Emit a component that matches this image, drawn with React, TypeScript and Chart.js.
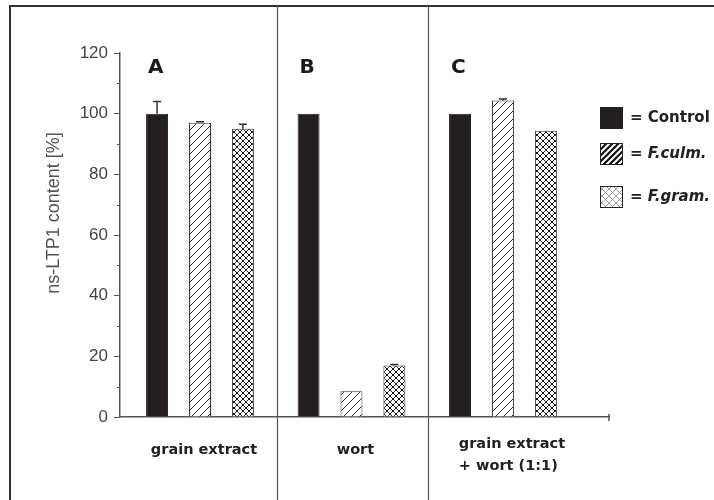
import React, { useEffect, useRef } from 'react';
import { Chart, registerables } from 'chart.js';

Chart.register(...registerables);

// ---- data ----
const categories: string[][] = [['grain extract'], ['wort'], ['grain extract', '+ wort (1:1)']];
const panelLetters = ['A', 'B', 'C'];
const seriesNames = ['Control', 'F.culm.', 'F.gram.'];
const controlValues = [100, 100, 100];
const controlErrors = [4, 0, 0];
const fculmValues = [97, 8.5, 104.3];
const fculmErrors = [0.3, 0, 0.5];
const fgramValues = [95, 17, 94.4];
const fgramErrors = [1.5, 0.3, 0];
const yMin = 0;
const yMax = 120;
const yStep = 20;
const yMinorStep = 10;
const yTitle = 'ns-LTP1 content [%]';

const errorSets = [controlErrors, fculmErrors, fgramErrors];

function makePattern(kind: string): CanvasPattern | string {
  const c = document.createElement('canvas');
  const size = kind === 'diag' ? 8 : kind === 'cross' ? 6 : kind === 'diagBold' ? 6 : 7;
  c.width = size;
  c.height = size;
  const g = c.getContext('2d');
  if (!g) return '#fff';
  g.fillStyle = '#ffffff';
  g.fillRect(0, 0, size, size);
  const s = size;
  if (kind === 'diag' || kind === 'diagBold') {
    g.strokeStyle = kind === 'diag' ? '#2a2a2a' : '#111';
    g.lineWidth = kind === 'diag' ? 1 : 2.2;
    g.beginPath();
    g.moveTo(-1, s + 1); g.lineTo(s + 1, -1);
    g.moveTo(-1, 1); g.lineTo(1, -1);
    g.moveTo(s - 1, s + 1); g.lineTo(s + 1, s - 1);
    g.stroke();
  } else {
    g.strokeStyle = kind === 'cross' ? '#333' : '#777';
    g.lineWidth = kind === 'cross' ? 1 : 0.7;
    g.beginPath();
    g.moveTo(-1, s + 1); g.lineTo(s + 1, -1);
    g.moveTo(-1, -1); g.lineTo(s + 1, s + 1);
    g.stroke();
    if (kind === 'cross') {
      g.fillStyle = '#111';
      g.fillRect(s / 2 - 1, s / 2 - 1, 2, 2);
      g.fillRect(0, 0, 1, 1);
      g.fillRect(s - 1, 0, 1, 1);
      g.fillRect(0, s - 1, 1, 1);
      g.fillRect(s - 1, s - 1, 1, 1);
    }
  }
  const p = g.createPattern(c, 'repeat');
  return p || '#fff';
}

export default function App() {
  const ref = useRef<HTMLCanvasElement | null>(null);

  useEffect(() => {
    if (!ref.current) return;
    const diag = makePattern('diag');
    const cross = makePattern('cross');
    const diagBold = makePattern('diagBold');
    const crossLight = makePattern('crossLight');

    const toPts = (vals: number[]) => vals.map((v, i) => ({ x: i + 1, y: v }));

    const errorPlugin = {
      id: 'errorBars',
      afterDatasetsDraw(chart: any) {
        const ctx = chart.ctx;
        const y = chart.scales.y;
        ctx.save();
        ctx.strokeStyle = '#333';
        ctx.lineWidth = 1.5;
        chart.data.datasets.forEach((ds: any, di: number) => {
          const meta = chart.getDatasetMeta(di);
          meta.data.forEach((el: any, j: number) => {
            const e = errorSets[di][j];
            if (!e) return;
            const v = ds.data[j].y;
            const y0 = y.getPixelForValue(v);
            const y1 = y.getPixelForValue(v + e);
            ctx.beginPath();
            ctx.moveTo(el.x, y0);
            ctx.lineTo(el.x, y1);
            ctx.moveTo(el.x - 4, y1);
            ctx.lineTo(el.x + 4, y1);
            ctx.stroke();
          });
        });
        ctx.restore();
      },
    };

    const decorPlugin = {
      id: 'decor',
      afterDraw(chart: any) {
        const ctx = chart.ctx;
        const x = chart.scales.x;
        const y = chart.scales.y;
        const area = chart.chartArea;
        ctx.save();
        // outer frame (left and top)
        ctx.strokeStyle = '#333';
        ctx.lineWidth = 2;
        ctx.beginPath();
        ctx.moveTo(10, 500);
        ctx.lineTo(10, 6);
        ctx.lineTo(714, 6);
        ctx.stroke();
        // dividers between panels
        ctx.strokeStyle = '#555';
        ctx.lineWidth = 1.2;
        for (let i = 1; i < categories.length; i++) {
          const px = Math.round(x.getPixelForValue(i + 0.5)) + 1.5;
          ctx.beginPath();
          ctx.moveTo(px, 6);
          ctx.lineTo(px, 500);
          ctx.stroke();
        }
        // minor y ticks
        ctx.strokeStyle = '#555';
        ctx.lineWidth = 1;
        for (let v = yMin + yMinorStep; v < yMax; v += yStep) {
          const py = Math.round(y.getPixelForValue(v)) + 0.5;
          ctx.beginPath();
          ctx.moveTo(area.left - 3, py);
          ctx.lineTo(area.left, py);
          ctx.stroke();
        }
        // end tick on x axis
        ctx.lineWidth = 1.5;
        ctx.beginPath();
        ctx.moveTo(area.right, area.bottom - 3);
        ctx.lineTo(area.right, area.bottom + 4);
        ctx.stroke();
        // y title
        ctx.fillStyle = '#555';
        ctx.font = '18px "Liberation Sans", Arial, sans-serif';
        ctx.textAlign = 'center';
        ctx.textBaseline = 'middle';
        ctx.save();
        ctx.translate(54, 213);
        ctx.rotate(-Math.PI / 2);
        ctx.fillText(yTitle, 0, 0);
        ctx.restore();
        // panel letters
        const ctrlMeta = chart.getDatasetMeta(0);
        ctx.fillStyle = '#1a1a1a';
        ctx.font = 'bold 20px "DejaVu Sans", Arial, sans-serif';
        ctx.textAlign = 'left';
        panelLetters.forEach((L, i) => {
          const el = ctrlMeta.data[i];
          ctx.fillText(L, el.x - el.width / 2 + 2, 68);
        });
        // category labels
        ctx.font = 'bold 14.5px "DejaVu Sans", Arial, sans-serif';
        ctx.fillStyle = '#222';
        categories.forEach((lines, i) => {
          const cx = x.getPixelForValue(i + 1) + (lines.length > 1 ? 9 : 4);
          const w = Math.max(...lines.map((l) => ctx.measureText(l).width));
          const left = cx - w / 2;
          lines.forEach((l, k) => {
            ctx.fillText(l, left, 450 - (lines.length - 1) * 6 + k * 22);
          });
        });
        // legend
        const boxes = [
          { top: 107, fill: '#231f20' },
          { top: 143, fill: diagBold },
          { top: 186, fill: crossLight },
        ];
        boxes.forEach((b, i) => {
          ctx.fillStyle = b.fill as any;
          ctx.fillRect(600, b.top, 23, 22);
          ctx.strokeStyle = '#222';
          ctx.lineWidth = 1;
          ctx.strokeRect(600.5, b.top + 0.5, 22, 21);
          ctx.fillStyle = '#222';
          ctx.font = 'bold 15px "DejaVu Sans", Arial, sans-serif';
          ctx.textAlign = 'left';
          const eq = '= ';
          ctx.fillText(eq, 630, b.top + 11);
          const ew = ctx.measureText(eq).width;
          ctx.font = (i === 0 ? '' : 'italic ') + 'bold 15px "DejaVu Sans", Arial, sans-serif';
          ctx.fillText(seriesNames[i], 630 + ew, b.top + 11);
        });
        ctx.restore();
      },
    };

    const chart = new Chart(ref.current, {
      type: 'bar',
      data: {
        datasets: [
          {
            label: seriesNames[0],
            data: toPts(controlValues),
            backgroundColor: '#231f20',
            borderColor: '#231f20',
            borderWidth: 1,
          },
          {
            label: seriesNames[1],
            data: toPts(fculmValues),
            backgroundColor: diag as any,
            borderColor: '#333',
            borderWidth: 1,
          },
          {
            label: seriesNames[2],
            data: toPts(fgramValues),
            backgroundColor: cross as any,
            borderColor: '#333',
            borderWidth: 1,
          },
        ],
      },
      options: {
        animation: false,
        responsive: false,
        devicePixelRatio: 1,
        layout: { padding: { left: 0, top: 53, right: 105, bottom: 0 } },
        datasets: { bar: { categoryPercentage: 0.85, barPercentage: 0.512 } } as any,
        plugins: { legend: { display: false }, tooltip: { enabled: false } },
        scales: {
          x: {
            type: 'linear',
            min: 0.472,
            max: 3.7,
            offset: false,
            afterBuildTicks: (s: any) => {
              s.ticks = categories.map((_, i) => ({ value: i + 1 }));
            },
            afterFit: (s: any) => {
              s.height = 83;
              s.paddingLeft = 0;
              s.paddingRight = 0;
            },
            ticks: { display: false },
            grid: { display: false },
            border: { display: true, color: '#555', width: 1.5 },
          },
          y: {
            min: yMin,
            max: yMax,
            afterFit: (s: any) => {
              s.width = 120;
              s.paddingTop = 0;
              s.paddingBottom = 0;
            },
            ticks: {
              stepSize: yStep,
              padding: 6,
              color: '#444',
              font: { family: '"Liberation Sans", Arial, sans-serif', size: 17 },
            },
            grid: { display: true, drawOnChartArea: false, drawTicks: true, tickLength: 6, tickColor: '#555', tickWidth: 1 },
            border: { display: true, color: '#555', width: 1.5 },
          },
        },
      } as any,
      plugins: [errorPlugin, decorPlugin],
    });
    return () => chart.destroy();
  }, []);

  return (
    <div style={{ position: 'fixed', left: 0, top: 0, width: 714, height: 500, background: '#fff' }}>
      <canvas ref={ref} width={714} height={500} style={{ display: 'block', width: 714, height: 500 }} />
    </div>
  );
}
